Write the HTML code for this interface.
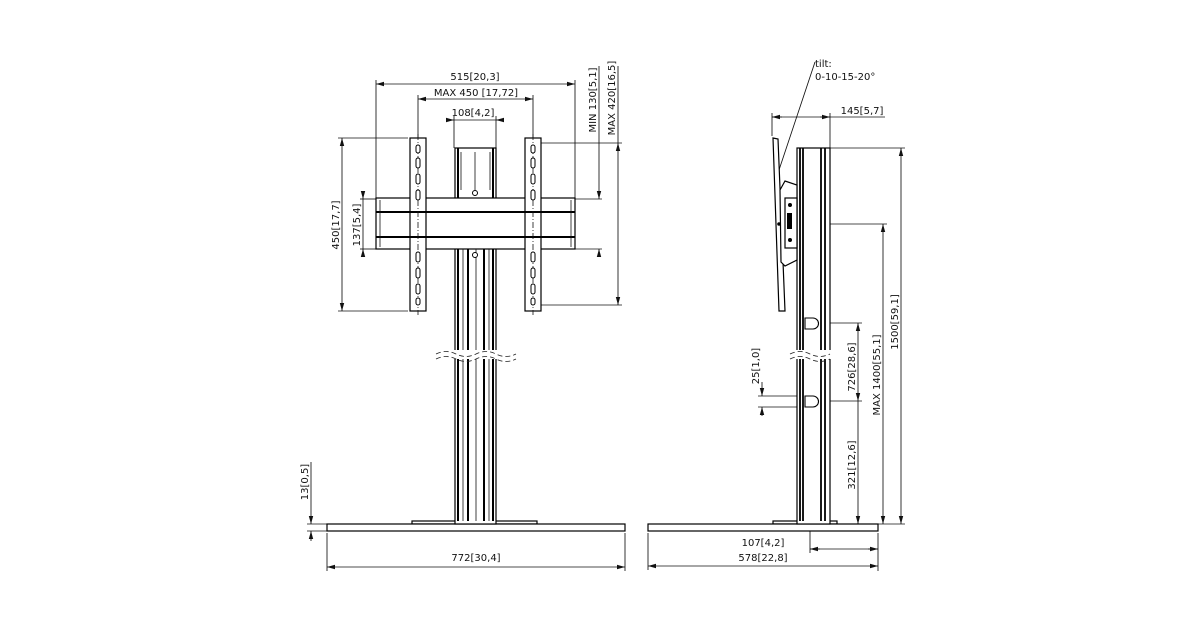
<!DOCTYPE html>
<html><head><meta charset="utf-8"><style>
html,body{margin:0;padding:0;background:#fff;}
svg{display:block;}
text{font-family:"DejaVu Sans","Liberation Sans",sans-serif;font-size:10px;fill:#111;}
</style></head><body>
<svg width="1200" height="630" viewBox="0 0 1200 630" xmlns="http://www.w3.org/2000/svg">
<defs>
<marker id="a" markerWidth="8" markerHeight="6" refX="8" refY="3" orient="auto-start-reverse" markerUnits="userSpaceOnUse"><path d="M0,0.8 L8,3 L0,5.2z" fill="#111"/></marker>
</defs>
<g stroke="#111" fill="none" stroke-width="0.85">
<line x1="376" y1="84" x2="575" y2="84" marker-start="url(#a)" marker-end="url(#a)"/>
<line x1="376" y1="80" x2="376" y2="199"/><line x1="575" y1="80" x2="575" y2="199"/>
<line x1="418" y1="99" x2="533" y2="99" marker-start="url(#a)" marker-end="url(#a)"/>
<line x1="418" y1="95" x2="418" y2="138"/><line x1="533" y1="95" x2="533" y2="138"/>
<line x1="447" y1="120" x2="454" y2="120" marker-end="url(#a)"/><line x1="504" y1="120" x2="496" y2="120" marker-end="url(#a)"/>
<line x1="454" y1="120" x2="496" y2="120"/>
<line x1="454" y1="116" x2="454" y2="148"/><line x1="496" y1="116" x2="496" y2="148"/>
<line x1="342" y1="138" x2="342" y2="311" marker-start="url(#a)" marker-end="url(#a)"/>
<line x1="338" y1="138" x2="408" y2="138"/><line x1="338" y1="311" x2="408" y2="311"/>
<line x1="363" y1="192" x2="363" y2="199" marker-end="url(#a)"/><line x1="363" y1="257" x2="363" y2="249" marker-end="url(#a)"/>
<line x1="363" y1="199" x2="363" y2="249"/>
<line x1="360" y1="199" x2="376" y2="199"/><line x1="360" y1="249" x2="376" y2="249"/>
<line x1="599" y1="66" x2="599" y2="199" marker-end="url(#a)"/><line x1="599" y1="257" x2="599" y2="249" marker-end="url(#a)"/>
<line x1="575" y1="199" x2="602" y2="199"/><line x1="575" y1="249" x2="602" y2="249"/>
<line x1="618" y1="66" x2="618" y2="143"/><line x1="618" y1="143" x2="618" y2="305" marker-start="url(#a)" marker-end="url(#a)"/>
<line x1="541" y1="143" x2="622" y2="143"/><line x1="541" y1="305" x2="622" y2="305"/>
<line x1="311" y1="462" x2="311" y2="524" marker-end="url(#a)"/><line x1="311" y1="541" x2="311" y2="531" marker-end="url(#a)"/>
<line x1="307" y1="524" x2="327" y2="524"/><line x1="307" y1="531" x2="327" y2="531"/>
<line x1="327" y1="567" x2="625" y2="567" marker-start="url(#a)" marker-end="url(#a)"/>
<line x1="327" y1="533" x2="327" y2="571"/><line x1="625" y1="533" x2="625" y2="571"/>
</g>
<g stroke="#000" fill="#fff" stroke-width="1.2">
<rect x="412" y="521" width="125" height="3"/>
<rect x="327" y="524" width="298" height="7"/>
<rect x="455" y="148" width="41" height="376"/>
<rect x="376" y="198" width="199" height="51"/>
<rect x="410" y="138" width="16" height="173"/>
<rect x="525" y="138" width="16" height="173"/>
</g>
<g stroke="#000" stroke-width="2">
<line x1="458" y1="148" x2="458" y2="198"/><line x1="493" y1="148" x2="493" y2="198"/>
<line x1="458" y1="249" x2="458" y2="521"/><line x1="493" y1="249" x2="493" y2="521"/>
<line x1="468" y1="249" x2="468" y2="521"/><line x1="484" y1="249" x2="484" y2="521"/>
<line x1="376" y1="212" x2="575" y2="212"/><line x1="376" y1="237" x2="575" y2="237"/>
</g>
<g stroke="#111" stroke-width="0.8">
<line x1="475" y1="152" x2="475" y2="190"/><line x1="476" y1="249" x2="476" y2="521"/>
<line x1="463" y1="249" x2="463" y2="521"/><line x1="489" y1="249" x2="489" y2="521"/>
<line x1="461" y1="152" x2="461" y2="190"/><line x1="490" y1="152" x2="490" y2="190"/>
<line x1="380" y1="200" x2="380" y2="247"/><line x1="571" y1="200" x2="571" y2="247"/>
<line x1="418" y1="134" x2="418" y2="315" stroke-dasharray="6,2,1,2"/>
<line x1="533" y1="134" x2="533" y2="315" stroke-dasharray="6,2,1,2"/>
</g>
<g fill="#fff" stroke="#000" stroke-width="1">
<rect x="416" y="145" width="4" height="8" rx="2"/><rect x="416" y="158" width="4" height="10" rx="2"/><rect x="416" y="174" width="4" height="10" rx="2"/><rect x="416" y="190" width="4" height="10" rx="2"/>
<rect x="416" y="252" width="4" height="10" rx="2"/><rect x="416" y="268" width="4" height="10" rx="2"/><rect x="416" y="284" width="4" height="10" rx="2"/><rect x="416" y="298" width="4" height="7" rx="2"/>
<rect x="531" y="145" width="4" height="8" rx="2"/><rect x="531" y="158" width="4" height="10" rx="2"/><rect x="531" y="174" width="4" height="10" rx="2"/><rect x="531" y="190" width="4" height="10" rx="2"/>
<rect x="531" y="252" width="4" height="10" rx="2"/><rect x="531" y="268" width="4" height="10" rx="2"/><rect x="531" y="284" width="4" height="10" rx="2"/><rect x="531" y="298" width="4" height="7" rx="2"/>
<circle cx="475" cy="193" r="2.5"/><circle cx="475" cy="255" r="2.5"/>
</g>
<rect x="436" y="350" width="80" height="9" fill="#fff"/>
<path d="M436,354 q10,-5 20,0 t20,0 t20,0 t20,0" stroke="#222" fill="none" stroke-width="0.8" stroke-dasharray="5,3"/>
<path d="M436,359 q10,-5 20,0 t20,0 t20,0 t20,0" stroke="#222" fill="none" stroke-width="0.8" stroke-dasharray="5,3"/>

<g stroke="#111" fill="none" stroke-width="0.85">
<line x1="772" y1="117" x2="885" y2="117"/>
<line x1="772" y1="117" x2="782" y2="117" marker-start="url(#a)"/>
<line x1="830" y1="117" x2="820" y2="117" marker-start="url(#a)"/>
<line x1="772" y1="113" x2="772" y2="136"/><line x1="830" y1="113" x2="830" y2="148"/>
<line x1="777" y1="176" x2="815" y2="62"/>
<line x1="901" y1="148" x2="901" y2="524" marker-start="url(#a)" marker-end="url(#a)"/>
<line x1="830" y1="148" x2="905" y2="148"/><line x1="830" y1="524" x2="905" y2="524"/>
<line x1="883" y1="224" x2="883" y2="524" marker-start="url(#a)" marker-end="url(#a)"/>
<line x1="800" y1="224" x2="887" y2="224"/>
<line x1="858" y1="323" x2="858" y2="401" marker-start="url(#a)" marker-end="url(#a)"/>
<line x1="858" y1="401" x2="858" y2="524" marker-end="url(#a)"/>
<line x1="820" y1="323" x2="862" y2="323"/><line x1="820" y1="401" x2="862" y2="401"/>
<line x1="762" y1="382" x2="762" y2="396" marker-end="url(#a)"/><line x1="762" y1="416" x2="762" y2="407" marker-end="url(#a)"/>
<line x1="758" y1="396" x2="806" y2="396"/><line x1="758" y1="407" x2="806" y2="407"/>
<line x1="810" y1="549" x2="878" y2="549"/>
<line x1="810" y1="549" x2="820" y2="549" marker-start="url(#a)"/><line x1="878" y1="549" x2="868" y2="549" marker-start="url(#a)"/>
<line x1="810" y1="531" x2="810" y2="553"/><line x1="878" y1="533" x2="878" y2="571"/>
<line x1="648" y1="566" x2="878" y2="566" marker-start="url(#a)" marker-end="url(#a)"/>
<line x1="648" y1="533" x2="648" y2="570"/>
</g>
<g stroke="#000" fill="#fff" stroke-width="1.2">
<rect x="773" y="521" width="64" height="3"/>
<rect x="648" y="524" width="230" height="7"/>
<rect x="797" y="148" width="33" height="376"/>
<path d="M773,138 L778,139 L785,311 L779,311 Z"/>
<path d="M780,190 L785,181 L797,185 L797,260 L785,266 L781,262 Z"/>
<rect x="785" y="198" width="12" height="50"/>
</g>
<g stroke="#000" stroke-width="1.8">
<line x1="800" y1="148" x2="800" y2="521"/><line x1="803" y1="148" x2="803" y2="521"/>
<line x1="821" y1="148" x2="821" y2="521"/><line x1="825" y1="148" x2="825" y2="521"/>
</g>
<g fill="#000"><circle cx="790" cy="205" r="2"/><circle cx="790" cy="240" r="2"/><circle cx="779" cy="224" r="1.8"/><rect x="787" y="213" width="5" height="16"/></g>
<g fill="#fff" stroke="#000" stroke-width="1.1">
<path d="M805,318 h8 a5,5 0 0 1 0,11 h-8z"/><path d="M805,396 h8 a5,5 0 0 1 0,11 h-8z"/>
</g>
<rect x="790" y="350" width="45" height="9" fill="#fff"/>
<path d="M790,354 q10,-5 20,0 t20,0" stroke="#222" fill="none" stroke-width="0.8" stroke-dasharray="5,3"/>
<path d="M790,359 q10,-5 20,0 t20,0" stroke="#222" fill="none" stroke-width="0.8" stroke-dasharray="5,3"/>

<text x="475" y="80" text-anchor="middle">515[20,3]</text>
<text x="476" y="96" text-anchor="middle">MAX 450 [17,72]</text>
<text x="473" y="116" text-anchor="middle">108[4,2]</text>
<text transform="translate(339,225) rotate(-90)" text-anchor="middle">450[17,7]</text>
<text transform="translate(360,225) rotate(-90)" text-anchor="middle">137[5,4]</text>
<text transform="translate(596,100) rotate(-90)" text-anchor="middle">MIN 130[5,1]</text>
<text transform="translate(615,98) rotate(-90)" text-anchor="middle">MAX 420[16,5]</text>
<text transform="translate(308,482) rotate(-90)" text-anchor="middle">13[0,5]</text>
<text x="476" y="561" text-anchor="middle">772[30,4]</text>
<text x="815" y="67">tilt:</text>
<text x="815" y="80">0-10-15-20°</text>
<text x="862" y="114" text-anchor="middle">145[5,7]</text>
<text transform="translate(898,322) rotate(-90)" text-anchor="middle">1500[59,1]</text>
<text transform="translate(880,375) rotate(-90)" text-anchor="middle">MAX 1400[55,1]</text>
<text transform="translate(855,367) rotate(-90)" text-anchor="middle">726[28,6]</text>
<text transform="translate(855,465) rotate(-90)" text-anchor="middle">321[12,6]</text>
<text transform="translate(759,366) rotate(-90)" text-anchor="middle">25[1,0]</text>
<text x="763" y="546" text-anchor="middle">107[4,2]</text>
<text x="763" y="561" text-anchor="middle">578[22,8]</text>
</svg>
</body></html>
